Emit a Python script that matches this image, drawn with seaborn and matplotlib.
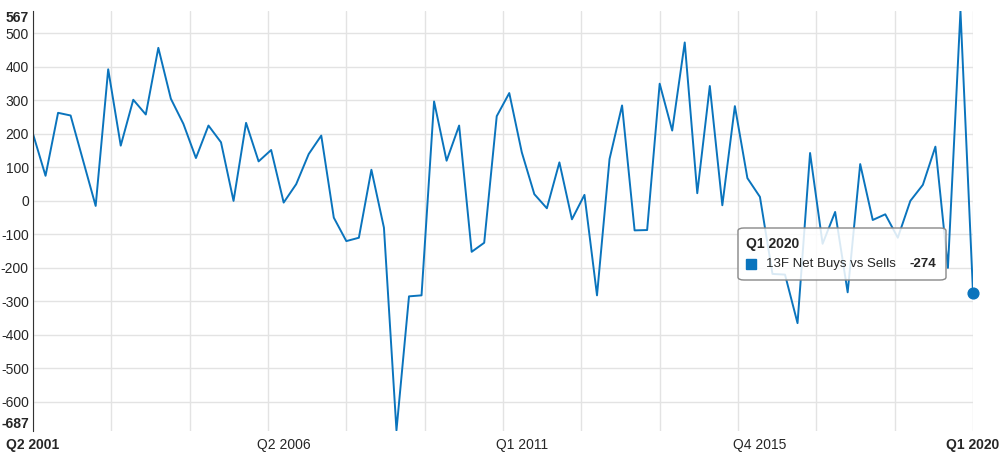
import numpy as np
import pandas as pd
import matplotlib
matplotlib.use("Agg")
import matplotlib.pyplot as plt
import seaborn as sns
from matplotlib.patches import FancyBboxPatch

# quarterly 13F net buys vs sells, Q2 2001 .. Q1 2020
net_values = [
    200, 75, 263, 255, 120, -15, 393, 165, 302, 258,
    457, 305, 230, 128, 225, 175, 0, 233, 118, 152,
    -5, 50, 140, 195, -50, -120, -110, 93, -80, -685,
    -285, -282, 297, 120, 225, -152, -125, 253, 322, 145,
    20, -22, 115, -55, 18, -282, 125, 285, -88, -87,
    350, 210, 473, 23, 343, -13, 283, 68, 12, -218,
    -220, -365, 143, -128, -33, -273, 110, -57, -40, -110,
    0, 48, 162, -200, 567, -274,
]
tick_pos = [0, 20, 39, 58, 75]
tick_labels = ["Q2 2001", "Q2 2006", "Q1 2011", "Q4 2015", "Q1 2020"]
y_ticks = [-687, -600, -500, -400, -300, -200, -100, 0, 100, 200, 300, 400, 500, 567]

color = "#0a74bd"
df = pd.DataFrame({"q": np.arange(len(net_values)), "value": net_values})

sns.set_style("white")
plt.rcParams["font.family"] = ["Liberation Sans", "DejaVu Sans"]

fig = plt.figure(figsize=(10.01, 4.65), dpi=100)
ax = fig.add_axes([33 / 1001, 1 - 431 / 465, 940 / 1001, 420 / 465])

sns.lineplot(data=df, x="q", y="value", ax=ax, color=color, linewidth=1.4)
ax.scatter([df.q.iloc[-1]], [df.value.iloc[-1]], s=60, color=color, zorder=5, clip_on=False)

ax.set_xlim(0, len(net_values) - 1)
ax.set_ylim(-687, 567)
for gx in np.linspace(0, len(net_values) - 1, 13):
    ax.axvline(gx, color="#e3e3e3", lw=1, zorder=0)
for gy in y_ticks[1:-1]:
    ax.axhline(gy, color="#e3e3e3", lw=1, zorder=0)

ax.set_xticks(tick_pos)
ax.set_xticklabels(tick_labels, fontsize=10)
ax.set_yticks(y_ticks)
ax.set_yticklabels([str(v) for v in y_ticks], fontsize=10)
xl = ax.get_xticklabels()
yl = ax.get_yticklabels()
for lbl in [xl[0], xl[-1], yl[0], yl[-1]]:
    lbl.set_fontweight("bold")
yl[0].set_va("bottom")
yl[-1].set_va("top")
ax.tick_params(length=0, pad=3)
ax.tick_params(axis="x", pad=5)
ax.set_xlabel("")
ax.set_ylabel("")
for s in ["top", "right", "bottom"]:
    ax.spines[s].set_visible(False)
ax.spines["left"].set_color("#333333")

# hover tooltip
box = FancyBboxPatch((738 / 1001, 1 - 280 / 465), 208 / 1001, 52 / 465,
                     boxstyle="round,pad=0,rounding_size=0.006",
                     transform=fig.transFigure, facecolor=(1, 1, 1, 0.85),
                     edgecolor="#888888", lw=1, zorder=10)
fig.patches.append(box)
fig.text(746 / 1001, 1 - 244 / 465, "Q1 2020", fontsize=10, fontweight="bold", va="center", zorder=11)
fig.patches.append(plt.Rectangle((746 / 1001, 1 - 269 / 465), 10 / 1001, 10 / 465,
                                 transform=fig.transFigure, color=color, zorder=11))
fig.text(766 / 1001, 1 - 264 / 465, "13F Net Buys vs Sells", fontsize=9.5, va="center", zorder=11)
fig.text(936 / 1001, 1 - 264 / 465, "-274", fontsize=9.5, fontweight="bold", va="center",
         ha="right", zorder=11)

fig.savefig("out.png", dpi=100)
